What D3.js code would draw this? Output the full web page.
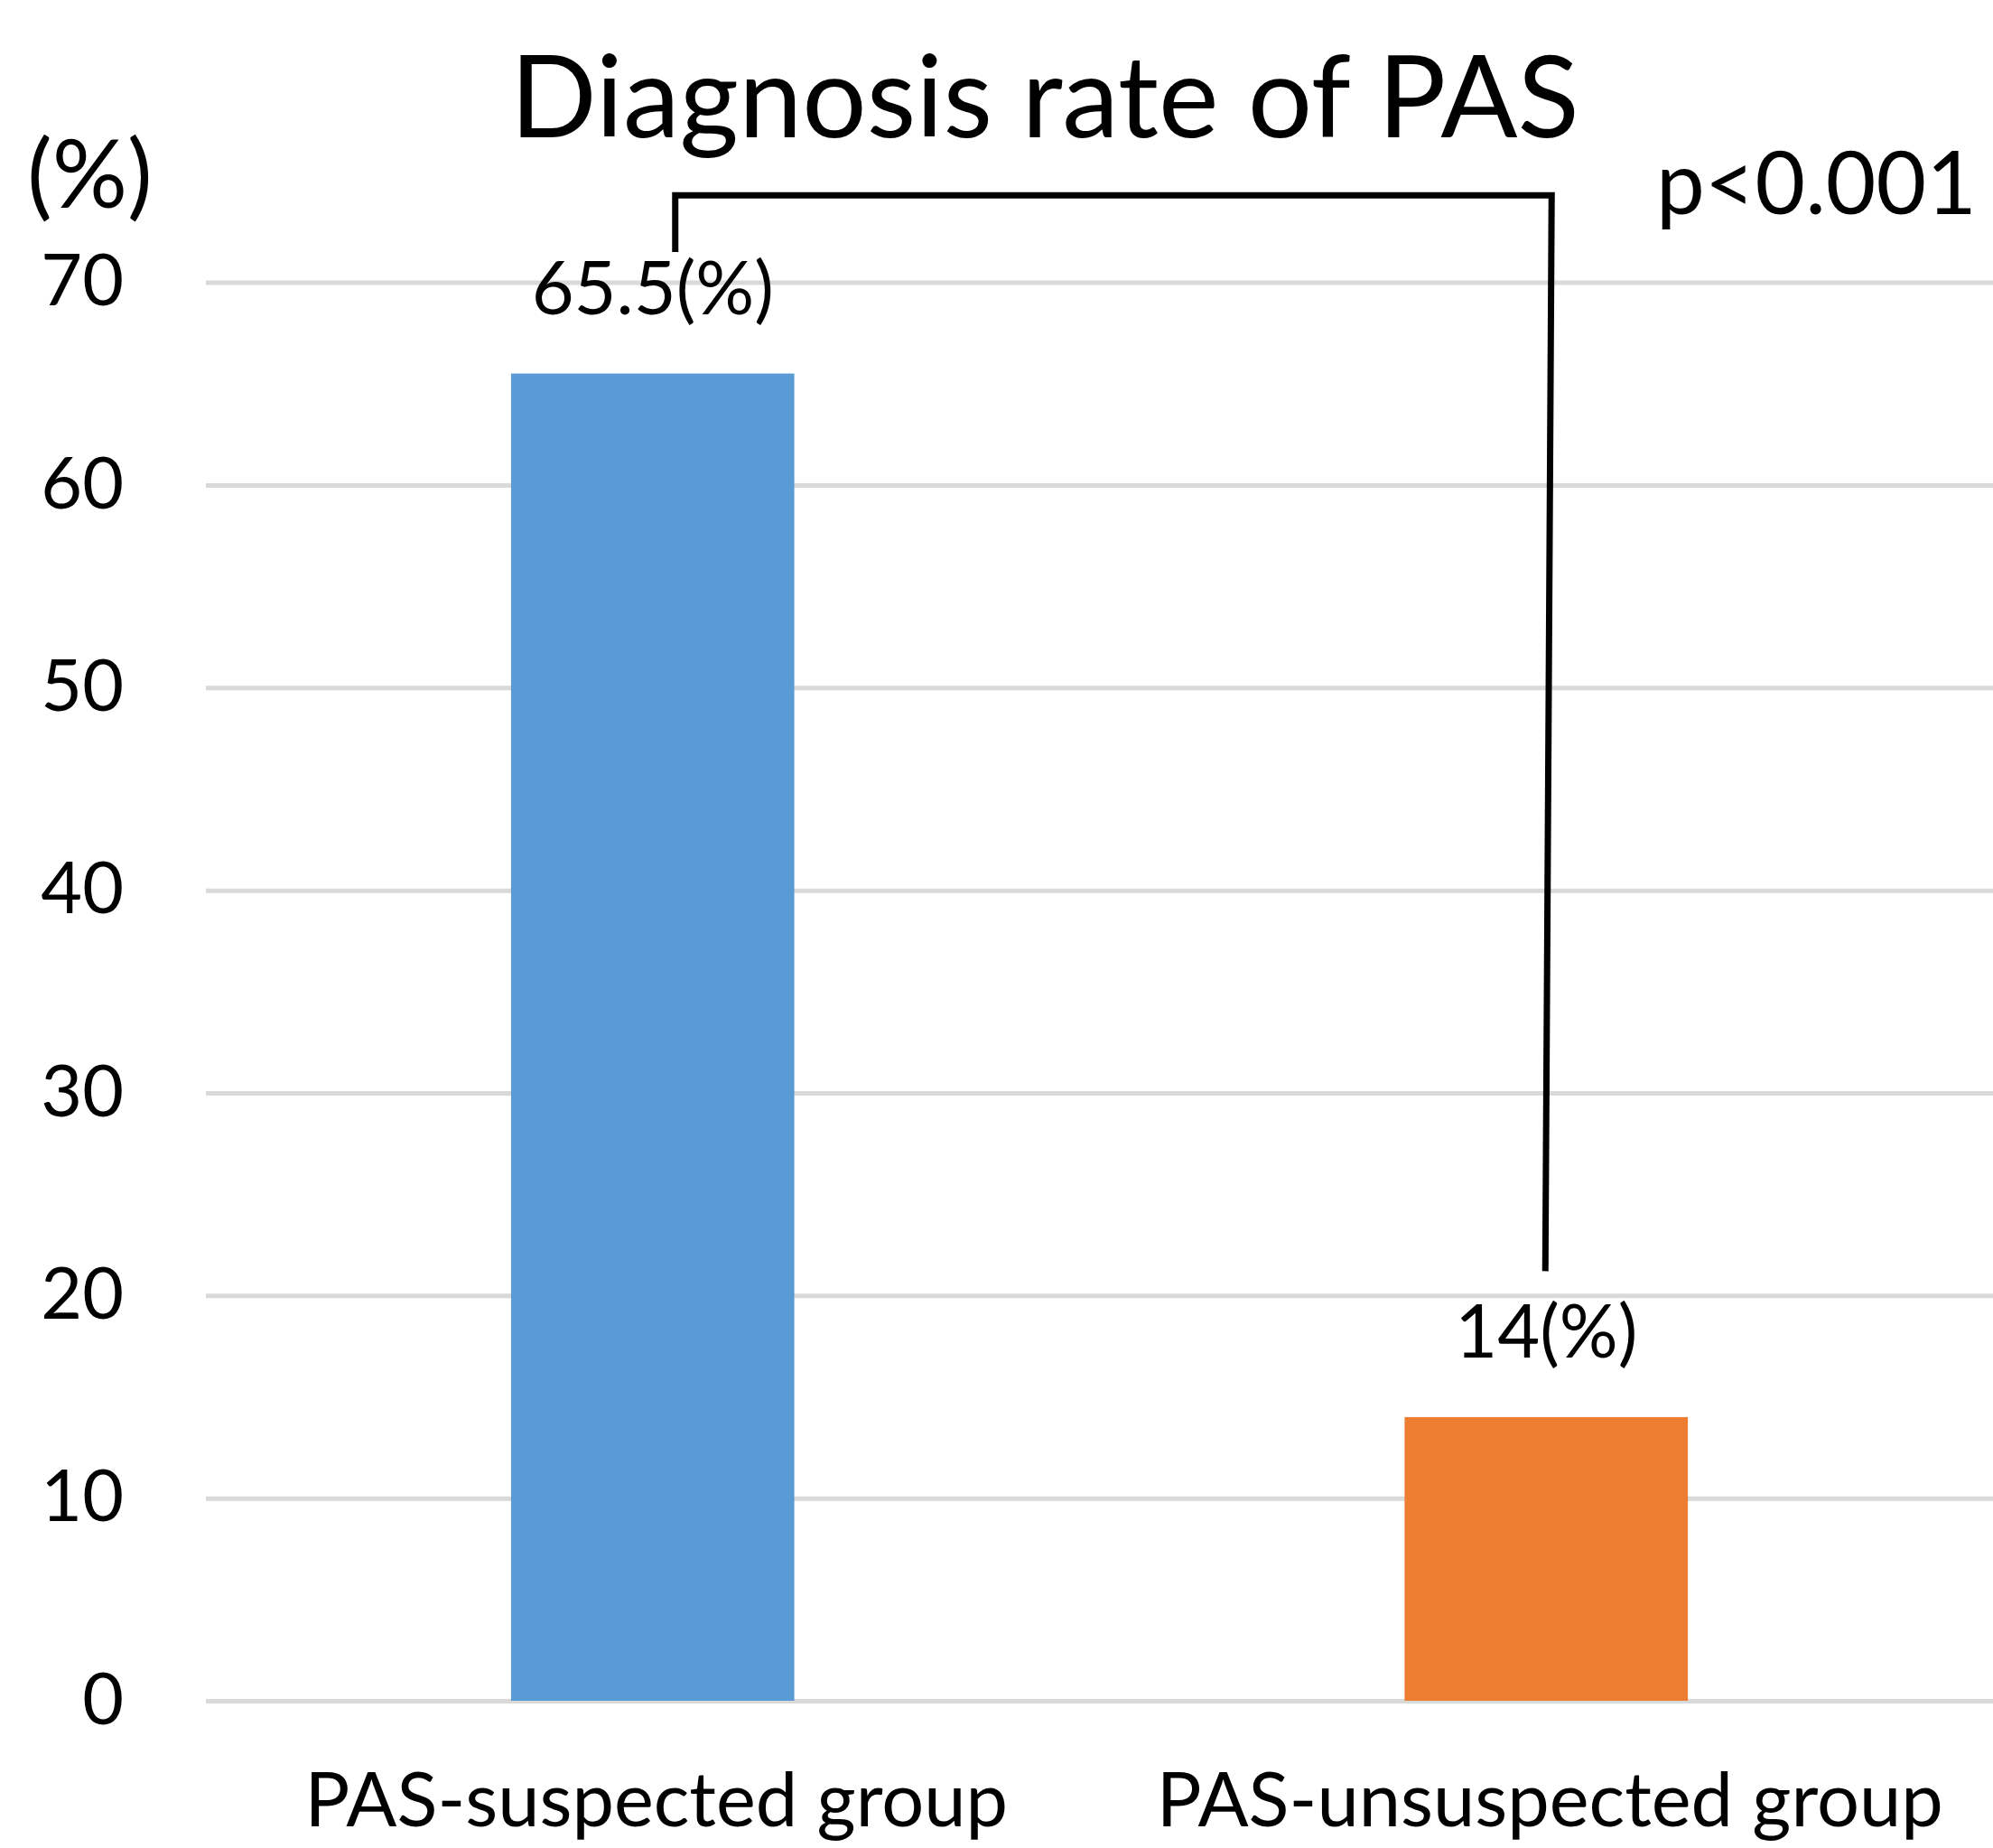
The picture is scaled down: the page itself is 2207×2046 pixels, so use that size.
<!DOCTYPE html>
<html>
<head>
<meta charset="utf-8">
<script src="https://cdn.jsdelivr.net/npm/d3@7"></script>
<style>
body { margin: 0; background: #fff; }
</style>
</head>
<body>
<script>
var categories = ["PAS-suspected group", "PAS-unsuspected group"];
var rates = [65.5, 14];
var rateLabels = ["65.5(%)", "14(%)"];
var barColors = ["#5B9BD5", "#ED7D31"];
var yTicks = [0, 10, 20, 30, 40, 50, 60, 70];
var pText = "p<0.001";
// significance bracket, in axis units: left foot, top bar, right foot
var bracketLevels = [71.5, 74.3, 21.2];

var width = 2207;
var height = 2046;
var font = "Lato, 'Open Sans', sans-serif";

var svg = d3.select("body").append("svg")
    .attr("width", width)
    .attr("height", height)
    .style("display", "block")
    .style("font-family", font);

var x = d3.scaleBand()
    .domain(categories)
    .range([228, width])
    .paddingInner(0.683)
    .paddingOuter(0.3415);

var y = d3.scaleLinear()
    .domain([0, 70])
    .range([1883, 312.6]);

// gridlines + tick labels
var yAxis = svg.append("g")
    .attr("transform", "translate(228,0)")
    .call(d3.axisLeft(y).tickValues(yTicks).tickSize(-(width - 228)).tickPadding(91));
yAxis.select(".domain").remove();
yAxis.selectAll(".tick line")
    .attr("stroke", "#D9D9D9")
    .attr("stroke-width", 5);
yAxis.selectAll(".tick text")
    .attr("fill", "#000")
    .style("font-family", font)
    .style("font-size", "79px");

// bars
svg.append("g")
  .selectAll("rect")
  .data(rates)
  .join("rect")
    .attr("x", (d, i) => x(categories[i]))
    .attr("y", d => y(d))
    .attr("width", x.bandwidth())
    .attr("height", d => y(0) - y(d))
    .attr("fill", (d, i) => barColors[i]);

// value labels
svg.append("g")
  .selectAll("text")
  .data(rates)
  .join("text")
    .attr("x", (d, i) => x(categories[i]) + x.bandwidth() / 2)
    .attr("y", d => y(d) - 66)
    .attr("text-anchor", "middle")
    .style("font-size", "81px")
    .text((d, i) => rateLabels[i]);

// category labels
var xAxis = svg.append("g")
    .attr("transform", "translate(0," + y(0) + ")")
    .call(d3.axisBottom(x).tickSize(0).tickPadding(80));
xAxis.select(".domain").remove();
xAxis.selectAll(".tick text")
    .attr("fill", "#000")
    .attr("dx", 4)
    .style("font-family", font)
    .style("font-size", "83px");

// significance bracket
var c0 = x(categories[0]) + x.bandwidth() / 2;
var c1 = x(categories[1]) + x.bandwidth() / 2;
svg.append("path")
    .attr("d", d3.line()([
      [c0 + 25, y(bracketLevels[0])],
      [c0 + 25, y(bracketLevels[1])],
      [c1 + 6, y(bracketLevels[1])],
      [c1 - 1, y(bracketLevels[2])]
    ]))
    .attr("fill", "none")
    .attr("stroke", "#000")
    .attr("stroke-width", 7);

svg.append("text")
    .attr("x", 1834)
    .attr("y", 237)
    .style("font-size", "96px")
    .text(pText);

// title and unit
svg.append("text")
    .attr("x", 1157)
    .attr("y", 152)
    .attr("text-anchor", "middle")
    .style("font-size", "126px")
    .text("Diagnosis rate of PAS");

svg.append("text")
    .attr("x", 30)
    .attr("y", 230)
    .style("font-size", "104px")
    .text("(%)");
</script>
</body>
</html>
